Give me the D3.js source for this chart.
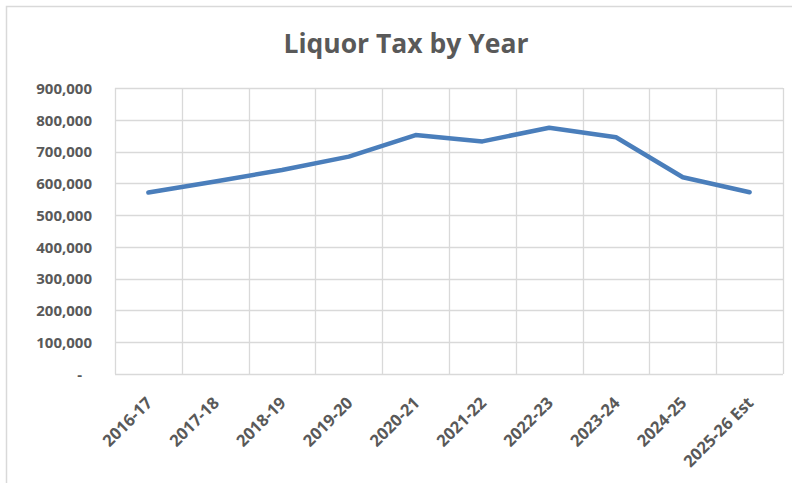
<!DOCTYPE html>
<html>
<head>
<meta charset="utf-8">
<script src="https://cdn.jsdelivr.net/npm/d3@7/dist/d3.min.js"></script>
<style>
  html, body { margin: 0; padding: 0; background: #fff; }
  svg { display: block; }
</style>
</head>
<body>
<svg id="chart" width="792" height="483"></svg>
<script>
// Liquor tax collections by fiscal year
const years = ["2016-17", "2017-18", "2018-19", "2019-20", "2020-21",
               "2021-22", "2022-23", "2023-24", "2024-25", "2025-26 Est"];
const liquorTax = [571000, 606000, 642000, 684000, 752000,
                   732000, 775000, 745000, 619000, 572000];
const yTicks = [0, 100000, 200000, 300000, 400000, 500000, 600000, 700000, 800000, 900000];
const chartTitle = "Liquor Tax by Year";

const svg = d3.select("#chart");
const W = 792, H = 483;
const margin = { left: 115, right: 9, top: 88, bottom: 109 };
const innerW = W - margin.left - margin.right;
const innerH = H - margin.top - margin.bottom;

const font = "'Open Sans', 'Noto Sans', sans-serif";
const textColor = "#595959";
const gridColor = "#d9d9d9";

// chart frame
svg.append("rect")
  .attr("x", 6.5).attr("y", 6.5)
  .attr("width", W + 10).attr("height", H + 10)
  .attr("fill", "#fff")
  .attr("stroke", gridColor).attr("stroke-width", 1.5);

// title
svg.append("text")
  .attr("x", 406).attr("y", 53)
  .attr("text-anchor", "middle")
  .attr("font-family", font).attr("font-weight", 700)
  .attr("font-size", 26.5).attr("fill", textColor)
  .text(chartTitle);

const g = svg.append("g").attr("transform", `translate(${margin.left},${margin.top})`);

const x = d3.scaleBand().domain(years).range([0, innerW]).paddingInner(0).paddingOuter(0);
const y = d3.scaleLinear().domain([0, 900000]).range([innerH, 0]);

// horizontal gridlines
g.append("g").selectAll("line").data(yTicks).join("line")
  .attr("x1", 0).attr("x2", innerW)
  .attr("y1", d => Math.round(y(d)) + 0.5).attr("y2", d => Math.round(y(d)) + 0.5)
  .attr("stroke", gridColor).attr("stroke-width", 1.3);

// vertical gridlines between categories
const bounds = years.map(d => x(d)).concat([innerW]);
g.append("g").selectAll("line").data(bounds).join("line")
  .attr("x1", d => Math.round(d) + 0.5).attr("x2", d => Math.round(d) + 0.5)
  .attr("y1", 0).attr("y2", innerH)
  .attr("stroke", gridColor).attr("stroke-width", 1.3);

// y axis labels
const fmt = d => d === 0 ? "-" : d3.format(",")(d);
const yAxis = d3.axisLeft(y).tickValues(yTicks).tickSize(0).tickPadding(0).tickFormat(fmt);
const yg = svg.append("g").attr("transform", `translate(92,${margin.top})`).call(yAxis);
yg.select(".domain").remove();
yg.selectAll("text")
  .attr("font-family", font).attr("font-weight", 700)
  .attr("font-size", 15).attr("fill", textColor)
  .attr("dy", "0.35em")
  .attr("dx", d => d === 0 ? -10 : 0);

// x axis labels, rotated
const xAxis = d3.axisBottom(x).tickSize(0).tickPadding(0);
const xg = g.append("g").attr("transform", `translate(0,${innerH})`).call(xAxis);
xg.select(".domain").remove();
xg.selectAll("text")
  .attr("font-family", font).attr("font-weight", 700)
  .attr("font-size", 16.5).attr("fill", textColor)
  .attr("text-anchor", "end")
  .attr("dy", 0).attr("y", 0)
  .attr("transform", "translate(5,30) rotate(-45)");

// data line
const line = d3.line()
  .x((d, i) => x(years[i]) + x.bandwidth() / 2)
  .y(d => y(d));
g.append("path")
  .datum(liquorTax)
  .attr("d", line)
  .attr("fill", "none")
  .attr("stroke", "#4a7ebb")
  .attr("stroke-width", 4.5)
  .attr("stroke-linejoin", "round")
  .attr("stroke-linecap", "round");
</script>
</body>
</html>
